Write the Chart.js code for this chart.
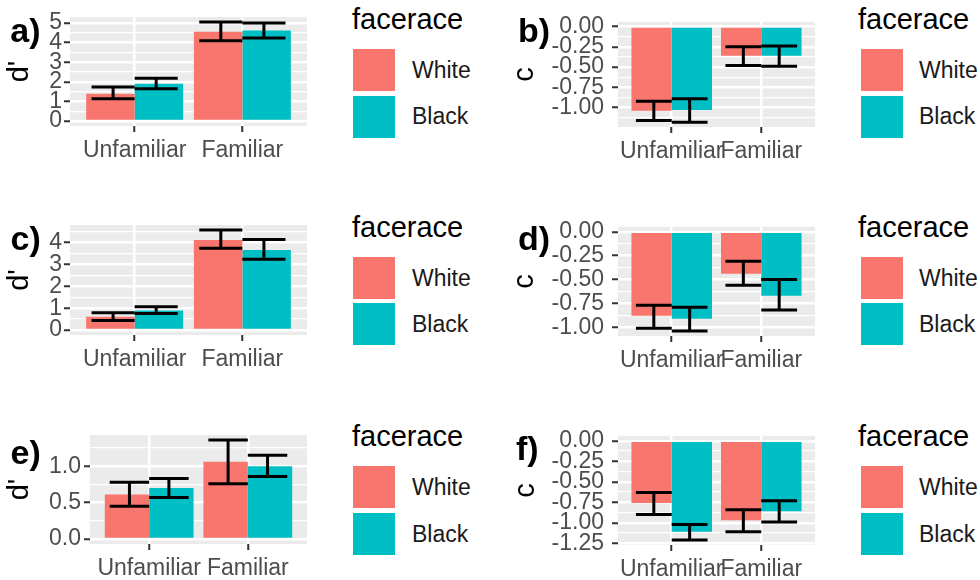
<!DOCTYPE html>
<html><head><meta charset="utf-8">
<script src="https://cdn.jsdelivr.net/npm/chart.js@4.4.1/dist/chart.umd.min.js"></script>
<style>
html,body{margin:0;padding:0;background:#fff;}
body{width:980px;height:580px;position:relative;overflow:hidden;font-family:"Liberation Sans",Arial,sans-serif;}
canvas{position:absolute;}
.t{position:absolute;white-space:nowrap;line-height:1;}
.key{position:absolute;width:42px;height:42px;}
</style></head><body>
<script>
// ---------- data ----------
const categories = ['Unfamiliar', 'Familiar'];
const seriesNames = ['White', 'Black'];
const legendTitle = 'facerace';

// panel a (d')
const aWhite = [1.39, 4.55], aWhiteLo = [1.14, 4.09], aWhiteHi = [1.74, 5.05];
const aBlack = [1.90, 4.61], aBlackLo = [1.64, 4.23], aBlackHi = [2.18, 5.00];
const aTickLabels = ['0', '1', '2', '3', '4', '5'];
// panel b (c)
const bWhite = [-1.04, -0.36], bWhiteLo = [-1.16, -0.48], bWhiteHi = [-0.92, -0.25];
const bBlack = [-1.03, -0.36], bBlackLo = [-1.18, -0.49], bBlackHi = [-0.89, -0.24];
const bTickLabels = ['0.00', '-0.25', '-0.50', '-0.75', '-1.00'];
// panel c (d')
const cWhite = [0.61, 4.12], cWhiteLo = [0.44, 3.74], cWhiteHi = [0.79, 4.58];
const cBlack = [0.89, 3.66], cBlackLo = [0.75, 3.24], cBlackHi = [1.07, 4.15];
const cTickLabels = ['0', '1', '2', '3', '4'];
// panel d (c)
const dWhite = [-0.88, -0.44], dWhiteLo = [-1.01, -0.56], dWhiteHi = [-0.77, -0.31];
const dBlack = [-0.91, -0.67], dBlackLo = [-1.04, -0.82], dBlackHi = [-0.79, -0.50];
const dTickLabels = ['0.00', '-0.25', '-0.50', '-0.75', '-1.00'];
// panel e (d')
const eWhite = [0.61, 1.06], eWhiteLo = [0.45, 0.76], eWhiteHi = [0.78, 1.36];
const eBlack = [0.70, 1.00], eBlackLo = [0.57, 0.86], eBlackHi = [0.83, 1.15];
const eTickLabels = ['0.0', '0.5', '1.0'];
// panel f (c)
const fWhite = [-0.76, -0.97], fWhiteLo = [-0.90, -1.11], fWhiteHi = [-0.63, -0.84];
const fBlack = [-1.11, -0.86], fBlackLo = [-1.21, -0.99], fBlackHi = [-1.02, -0.73];
const fTickLabels = ['0.00', '-0.25', '-0.50', '-0.75', '-1.00', '-1.25'];

// ---------- style ----------
const FONT = '"Liberation Sans", Arial, sans-serif';
const COLORS = ['#F8766D', '#00BFC4'];

const panels = [
  {lab:'a)', yTitle:"d'", w:[aWhite,aWhiteLo,aWhiteHi], b:[aBlack,aBlackLo,aBlackHi], ticks:aTickLabels,
   cv:{left:0, top:0, width:307, height:166}, padTop:17, yW:70, tPad:5.9, tickPad:2,
   labPos:[10.3, 41.7], leg:{title:352, key:353, text:412, base:29.5}},
  {lab:'b)', yTitle:'c', w:[bWhite,bWhiteLo,bWhiteHi], b:[bBlack,bBlackLo,bBlackHi], ticks:bTickLabels,
   cv:{left:490, top:0, width:325, height:167}, padTop:17, yW:128, tPad:20, tickPad:8,
   labPos:[518, 41.7], leg:{title:858, key:861, text:919, base:29.5}},
  {lab:'c)', yTitle:"d'", w:[cWhite,cWhiteLo,cWhiteHi], b:[cBlack,cBlackLo,cBlackHi], ticks:cTickLabels,
   cv:{left:0, top:205, width:307, height:170}, padTop:20, yW:70, tPad:5.9, tickPad:2,
   labPos:[10.5, 250], leg:{title:352, key:353, text:412, base:237.3}},
  {lab:'d)', yTitle:'c', w:[dWhite,dWhiteLo,dWhiteHi], b:[dBlack,dBlackLo,dBlackHi], ticks:dTickLabels,
   cv:{left:490, top:205, width:325, height:171}, padTop:20, yW:128, tPad:20, tickPad:8,
   labPos:[518, 249.3], leg:{title:858, key:861, text:919, base:237.3}},
  {lab:'e)', yTitle:"d'", w:[eWhite,eWhiteLo,eWhiteHi], b:[eBlack,eBlackLo,eBlackHi], ticks:eTickLabels,
   cv:{left:0, top:415, width:307, height:169}, padTop:20, yW:90, tPad:5.9, tickPad:3,
   labPos:[10.5, 463.3], leg:{title:352, key:353, text:412, base:446.7}},
  {lab:'f)', yTitle:'c', w:[fWhite,fWhiteLo,fWhiteHi], b:[fBlack,fBlackLo,fBlackHi], ticks:fTickLabels,
   cv:{left:490, top:414, width:325, height:171}, padTop:20, yW:128, tPad:21, tickPad:8,
   labPos:[516, 460], leg:{title:858, key:861, text:919, base:446.7}}
];

function addText(txt, left, baseline, size, bold, color) {
  const d = document.createElement('div');
  d.className = 't';
  d.textContent = txt;
  d.style.left = left + 'px';
  d.style.top = (baseline - size * 0.8465) + 'px';
  d.style.fontSize = size + 'px';
  d.style.fontWeight = bold ? 'bold' : 'normal';
  d.style.color = color;
  document.body.appendChild(d);
}

const bgPlugin = {
  id: 'panelBg',
  beforeDraw(chart) {
    const {ctx, chartArea: a} = chart;
    ctx.save();
    ctx.fillStyle = '#EBEBEB';
    ctx.fillRect(a.left, a.top, a.right - a.left, a.bottom - a.top);
    ctx.restore();
  }
};

const errPlugin = {
  id: 'errBars',
  afterDatasetsDraw(chart) {
    const xs = chart.scales.x, ys = chart.scales.y, ctx = chart.ctx;
    const DODGE = 0.2, HALF = 0.2;
    ctx.save();
    ctx.strokeStyle = '#000000';
    ctx.lineWidth = 3;
    ctx.lineCap = 'butt';
    chart.data.datasets.forEach((ds, di) => {
      const off = di === 0 ? -DODGE : DODGE;
      ds.lo.forEach((lo, i) => {
        const hi = ds.hi[i];
        const cx = xs.getPixelForValue(i + 1 + off);
        const hw = xs.getPixelForValue(1 + HALF) - xs.getPixelForValue(1);
        const y1 = ys.getPixelForValue(lo), y2 = ys.getPixelForValue(hi);
        ctx.beginPath();
        ctx.moveTo(cx, y1); ctx.lineTo(cx, y2);
        ctx.moveTo(cx - hw, y1); ctx.lineTo(cx + hw, y1);
        ctx.moveTo(cx - hw, y2); ctx.lineTo(cx + hw, y2);
        ctx.stroke();
      });
    });
    ctx.restore();
  }
};

panels.forEach(p => {
  const cv = document.createElement('canvas');
  cv.width = p.cv.width; cv.height = p.cv.height;
  cv.style.left = p.cv.left + 'px'; cv.style.top = p.cv.top + 'px';
  cv.style.width = p.cv.width + 'px'; cv.style.height = p.cv.height + 'px';
  document.body.appendChild(cv);

  const major = p.ticks.map(Number);
  const all = [].concat(p.w[1], p.w[2], p.b[1], p.b[2], p.w[0], p.b[0], [0]);
  const dmin = Math.min(...all), dmax = Math.max(...all);
  const ex = (dmax - dmin) * 0.05;
  const ymin = dmin - ex, ymax = dmax + ex;
  const sorted = major.slice().sort((a, b) => a - b);
  const step = sorted[1] - sorted[0];
  const minor = [];
  for (let v = sorted[0] - step / 2; v <= sorted[sorted.length - 1] + step / 2 + 1e-9; v += step) {
    if (v >= ymin && v <= ymax) minor.push(v);
  }
  const isMajor = v => major.some(m => Math.abs(m - v) < 1e-9);
  const allTicks = sorted.concat(minor).sort((a, b) => a - b);

  const mk = (vals) => vals.map((v, i) => ({x: i + 1, y: v}));

  new Chart(cv, {
    type: 'bar',
    data: {
      datasets: [
        {label: seriesNames[0], data: mk(p.w[0]), lo: p.w[1], hi: p.w[2], backgroundColor: COLORS[0], borderWidth: 0},
        {label: seriesNames[1], data: mk(p.b[0]), lo: p.b[1], hi: p.b[2], backgroundColor: COLORS[1], borderWidth: 0}
      ]
    },
    options: {
      responsive: false, animation: false, devicePixelRatio: 1,
      layout: {padding: {top: p.padTop, left: 0, right: 0, bottom: 0}},
      barPercentage: 1, categoryPercentage: 0.9,
      plugins: {legend: {display: false}, tooltip: {enabled: false}},
      scales: {
        x: {
          type: 'linear', min: 0.4, max: 2.6, offset: false,
          afterBuildTicks: s => { s.ticks = categories.map((c, i) => ({value: i + 1})); },
          afterFit: s => { s.height = 40; },
          ticks: {autoSkip: false, maxRotation: 0, minRotation: 0, padding: 5, color: '#4D4D4D',
                  font: {family: FONT, size: 23},
                  callback: v => categories[Math.round(v) - 1] || ''},
          grid: {offset: false, color: '#FFFFFF', lineWidth: 2.5, tickLength: 6, tickColor: '#333333', tickWidth: 2},
          border: {display: false}
        },
        y: {
          type: 'linear', min: ymin, max: ymax,
          afterBuildTicks: s => { s.ticks = allTicks.map(v => ({value: v})); },
          afterFit: s => { s.width = p.yW; },
          ticks: {autoSkip: false, padding: p.tickPad, color: '#4D4D4D', font: {family: FONT, size: 23},
                  callback: v => { const k = major.findIndex(m => Math.abs(m - v) < 1e-9); return k >= 0 ? p.ticks[k] : ''; }},
          grid: {color: '#FFFFFF',
                 lineWidth: c => (c.tick && isMajor(c.tick.value)) ? 2.5 : 1.2,
                 tickLength: 6,
                 tickColor: c => (c.tick && isMajor(c.tick.value)) ? '#333333' : 'rgba(0,0,0,0)',
                 tickWidth: 2},
          border: {display: false},
          title: {display: true, text: p.yTitle, color: '#000000',
                  font: {family: FONT, size: 29, lineHeight: 1}, padding: {top: p.tPad, bottom: 0}}
        }
      }
    },
    plugins: [bgPlugin, errPlugin]
  });

  // panel label
  addText(p.lab, p.labPos[0], p.labPos[1], 34, true, '#000000');
  // legend
  const L = p.leg;
  addText(legendTitle, L.title, L.base, 29, false, '#000000');
  seriesNames.forEach((n, i) => {
    const top = L.base + 19.7 + i * 46.3;
    const k = document.createElement('div');
    k.className = 'key';
    k.style.left = L.key + 'px'; k.style.top = top + 'px';
    k.style.background = COLORS[i];
    document.body.appendChild(k);
    addText(n, L.text, top + 29.3, 23, false, '#1A1A1A');
  });
});
</script>
</body></html>
